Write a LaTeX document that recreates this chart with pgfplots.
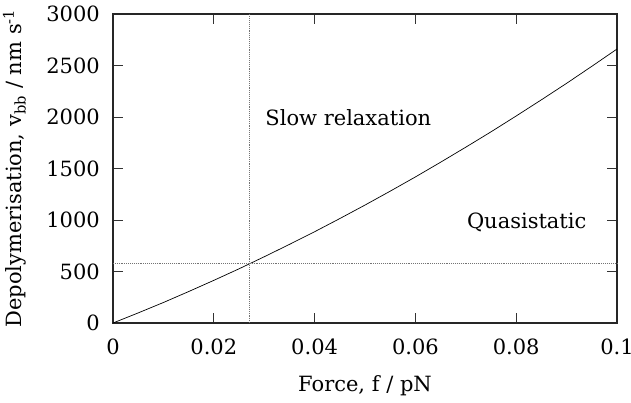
\documentclass[border=0pt]{standalone}
\usepackage{fontspec}
\setmainfont{DejaVu Serif}
\usepackage{pgfplots}
\pgfplotsset{compat=1.18}
\begin{document}
\fontsize{21}{25}\selectfont
\begin{tikzpicture}
\begin{axis}[
  scale only axis,
  width=504pt, height=309pt,
  xmin=0, xmax=0.1, ymin=0, ymax=3000,
  xtick={0,0.02,0.04,0.06,0.08,0.1},
  xticklabels={0,0.02,0.04,0.06,0.08,0.1},
  ytick={0,500,1000,1500,2000,2500,3000},
  /pgf/number format/assume math mode=true,
  /pgf/number format/1000 sep={},
  scaled x ticks=false,
  major tick length=10pt,
  tick style={line width=0.8pt, black!80},
  axis line style={line width=1.2pt, black!85},
  xticklabel style={yshift=-9pt},
  yticklabel style={xshift=-6pt},
  xlabel={Force, f / pN},
  ylabel={Depolymerisation, v\textsubscript{bb} / nm s\textsuperscript{-1}},
  xlabel style={yshift=-6pt},
  ylabel style={yshift=6pt},
  clip=false,
]
\addplot[black, line width=0.7pt] coordinates {
(0,0) (0.005,98) (0.01,199) (0.015,305) (0.02,414) (0.025,526) (0.03,643)
(0.035,763) (0.04,886) (0.045,1014) (0.05,1145) (0.055,1280) (0.06,1418)
(0.065,1561) (0.07,1707) (0.075,1856) (0.08,2010) (0.085,2167) (0.09,2327)
(0.095,2492) (0.1,2660)
};
\addplot[black!55, densely dotted, line width=0.9pt] coordinates {(0.027,0) (0.027,3000)};
\addplot[black!55, densely dotted, line width=0.9pt] coordinates {(0,575) (0.1,575)};
\node[anchor=base west, inner sep=0pt] at (axis cs:0.0302,1913) {Slow relaxation};
\node[anchor=base west, inner sep=0pt] at (axis cs:0.0702,922) {Quasistatic};
\coordinate (sw) at (rel axis cs:0,0);
\coordinate (ne) at (rel axis cs:1,1);
\end{axis}
\pgfresetboundingbox
\path[use as bounding box] ([xshift=-113pt,yshift=-79pt]sw) rectangle ([xshift=14pt,yshift=14pt]ne);
\end{tikzpicture}
\end{document}
